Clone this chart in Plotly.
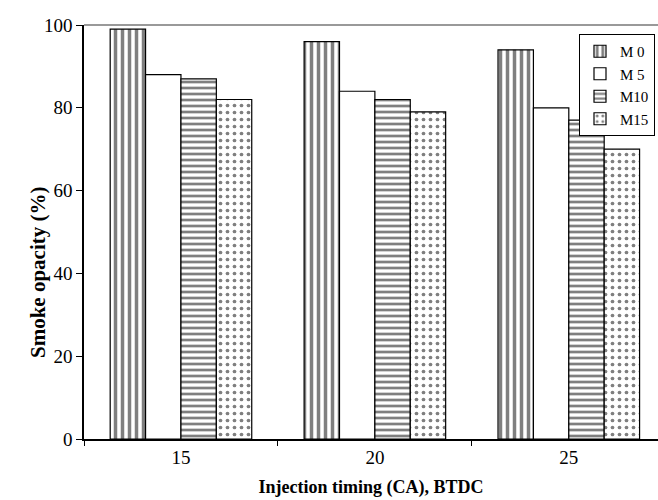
import plotly.graph_objects as go

categories = ["15", "20", "25"]
series_names = ["M 0", "M 5", "M10", "M15"]
m0 = [99, 96, 94]
m5 = [88, 84, 80]
m10 = [87, 82, 77]
m15 = [82, 79, 70]
values = [m0, m5, m10, m15]
y_ticks = [0, 20, 40, 60, 80, 100]

patterns = [
    dict(shape="|", size=7, solidity=0.5, fgcolor="black", bgcolor="white"),
    dict(shape="", fgcolor="black", bgcolor="white"),
    dict(shape="-", size=6, solidity=0.45, fgcolor="black", bgcolor="white"),
    dict(shape=".", size=7, solidity=0.22, fgcolor="black", bgcolor="white"),
]

xpos = list(range(len(categories)))
fig = go.Figure()
for name, vals, pat in zip(series_names, values, patterns):
    fig.add_trace(go.Bar(
        x=xpos, y=vals, name=name,
        marker=dict(color="white", pattern=pat,
                    line=dict(color="black", width=1.2)),
    ))

serif = "Liberation Serif, Times New Roman, serif"
L, T, B = 84, 25, 61
plot_h = 500 - T - B
fig.update_layout(
    width=658, height=500,
    margin=dict(l=L, r=0, t=T, b=B, autoexpand=False),
    paper_bgcolor="white", plot_bgcolor="white",
    barmode="group", bargap=0.27, bargroupgap=0,
    font=dict(family=serif, size=19, color="black"),
    showlegend=True,
    legend=dict(x=(579 - L) / 574, xanchor="left",
                y=1 - 9 / plot_h, yanchor="top",
                bordercolor="black", borderwidth=1, bgcolor="white",
                font=dict(family=serif, size=15, color="black"),
                tracegroupgap=0, itemwidth=30),
    xaxis=dict(range=[-0.5, 2.46], tickmode="array", tickvals=xpos,
               ticktext=categories, ticks="", showgrid=False,
               showline=True, linecolor="black", linewidth=1.5,
               zeroline=False, automargin=False,
               minor=dict(tickmode="array", tickvals=[-0.5, 0.5, 1.5, 2.5],
                          ticks="outside", ticklen=5, tickcolor="black",
                          tickwidth=1, showgrid=False),
               title=dict(text="<b>Injection timing (CA), BTDC</b>",
                          font=dict(family=serif, size=18), standoff=14),
               tickfont=dict(family=serif, size=19)),
    yaxis=dict(range=[0, 100], tickmode="array", tickvals=y_ticks,
               ticks="outside", ticklen=6, tickcolor="black", tickwidth=1,
               showgrid=False, showline=True, linecolor="black",
               linewidth=1.5, zeroline=False, automargin=False,
               tickfont=dict(family=serif, size=19)),
    annotations=[dict(text="<b>Smoke opacity (%)</b>", xref="paper", yref="paper",
                      x=-(L - 38) / 574, y=1 - (272 - T) / plot_h,
                      xanchor="center", yanchor="middle", textangle=-90,
                      showarrow=False, font=dict(family=serif, size=21))],
    shapes=[dict(type="line", xref="paper", yref="paper", x0=0, x1=1,
                 y0=1, y1=1, line=dict(color="#777777", width=1.5))],
)

fig.write_html("out.html", config={"displayModeBar": False},
               post_script="document.body.style.margin='0';document.body.style.padding='0';")
